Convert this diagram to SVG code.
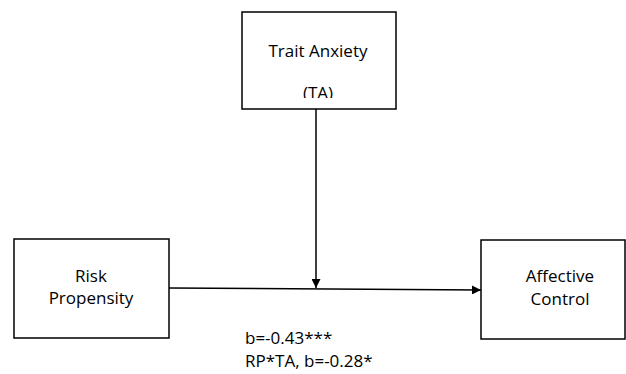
<svg xmlns="http://www.w3.org/2000/svg" width="626" height="374" viewBox="0 0 626 374">
<style>
.box{fill:#fff;stroke:#000;stroke-width:1.5}
.t{font-family:"Open Sans","Liberation Sans",sans-serif;font-size:17px;fill:#000}
.c{text-anchor:middle}
.ln{stroke:#000;stroke-width:1.5;fill:none}
</style>
<defs>
<marker id="ah" viewBox="0 0 10 10" refX="10" refY="5" markerWidth="11" markerHeight="9" markerUnits="userSpaceOnUse" orient="auto">
<path d="M0,0 L10,5 L0,10 Z" fill="#000"/>
</marker>
<clipPath id="taclip"><rect x="242" y="12" width="154" height="86"/></clipPath>
</defs>
<rect width="626" height="374" fill="#fff"/>
<g id="connectors">
<line class="ln" x1="316" y1="109" x2="316" y2="288" marker-end="url(#ah)"/>
<line class="ln" x1="169" y1="288" x2="481" y2="290" marker-end="url(#ah)"/>
</g>
<g id="trait-anxiety">
<rect class="box" x="242" y="12" width="154" height="97"/>
<text class="t c" x="318" y="57">Trait Anxiety</text>
<text class="t c" x="318" y="99" clip-path="url(#taclip)">(TA)</text>
</g>
<g id="risk-propensity">
<rect class="box" x="14" y="239" width="155" height="99"/>
<text class="t c" x="91" y="282">Risk</text>
<text class="t c" x="91" y="304">Propensity</text>
</g>
<g id="affective-control">
<rect class="box" x="481" y="240" width="144" height="99"/>
<text class="t c" x="560" y="282">Affective</text>
<text class="t c" x="560" y="305">Control</text>
</g>
<g id="labels">
<text class="t" x="245" y="344">b=-0.43***</text>
<text class="t" x="245" y="367">RP*TA, b=-0.28*</text>
</g>
</svg>
